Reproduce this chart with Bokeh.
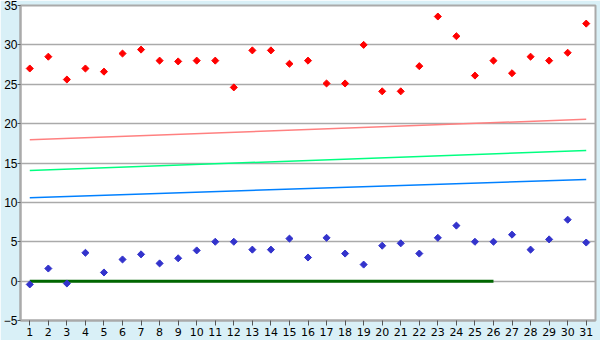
import math
from bokeh.plotting import figure
from bokeh.models import FixedTicker, Range1d
from bokeh.embed import file_html
from bokeh.resources import INLINE

days = list(range(1, 32))
red_vals = [27.0, 28.5, 25.6, 27.0, 26.6, 28.9, 29.4, 28.0, 27.9, 28.0,
            28.0, 24.6, 29.3, 29.3, 27.6, 28.0, 25.1, 25.1, 30.0, 24.1,
            24.1, 27.3, 33.6, 31.1, 26.1, 28.0, 26.4, 28.5, 28.0, 29.0, 32.7]
blue_vals = [-0.42, 1.6, -0.3, 3.6, 1.1, 2.75, 3.4, 2.25, 2.9, 3.9,
             5.0, 5.0, 4.0, 4.0, 5.4, 3.0, 5.5, 3.5, 2.1, 4.5,
             4.8, 3.5, 5.5, 7.05, 5.0, 5.0, 5.9, 4.0, 5.3, 7.8, 4.9]
line_x = [1, 31]
upper_line = [17.95, 20.55]
mid_line = [14.05, 16.6]
lower_line = [10.6, 12.9]
base_x = [1, 26]
base_y = [0, 0]
y_ticks = [-5, 0, 5, 10, 15, 20, 25, 30, 35]

p = figure(width=600, height=340, output_backend="svg", toolbar_location=None,
           x_range=Range1d(0.5, 31.5), y_range=Range1d(-5, 35),
           min_border_left=20, min_border_right=5, min_border_top=5, min_border_bottom=20)
p.border_fill_color = "#d9f0f7"
p.background_fill_color = "white"
p.outline_line_color = "#aaaaaa"
p.outline_line_width = 2

p.xgrid.grid_line_color = None
p.ygrid.grid_line_color = "#aaaaaa"
p.ygrid.grid_line_width = 1.5

p.xaxis.ticker = FixedTicker(ticks=days)
p.yaxis.ticker = FixedTicker(ticks=y_ticks)
for ax in (p.xaxis[0], p.yaxis[0]):
    ax.axis_line_color = "#aaaaaa"
    ax.axis_line_width = 2
    ax.major_tick_line_color = "#555555"
    ax.minor_tick_line_color = None
    ax.major_tick_in = 0
    ax.major_label_text_font = "DejaVu Sans"
    ax.major_label_text_font_size = "11px"
    ax.major_label_text_color = "black"
p.yaxis.major_label_text_font = "Liberation Sans"
p.yaxis.major_label_text_font_size = "12px"
p.xaxis.major_tick_out = 5
p.xaxis.major_label_standoff = 2
p.yaxis.major_tick_out = 3
p.yaxis.major_label_standoff = 0

p.line(line_x, upper_line, line_color="#ff8080", line_width=1.5)
p.line(line_x, mid_line, line_color="#00ff80", line_width=1.5)
p.line(line_x, lower_line, line_color="#0080ff", line_width=1.5)
p.line(base_x, base_y, line_color="#006600", line_width=3)

p.scatter(days, red_vals, marker="square", size=5, angle=math.pi / 4,
          fill_color="#ff0000", line_color="#ff0000")
p.scatter(days, blue_vals, marker="square", size=5, angle=math.pi / 4,
          fill_color="#3333cc", line_color="#3333cc")

open("out.html", "w").write(file_html(p, INLINE))
